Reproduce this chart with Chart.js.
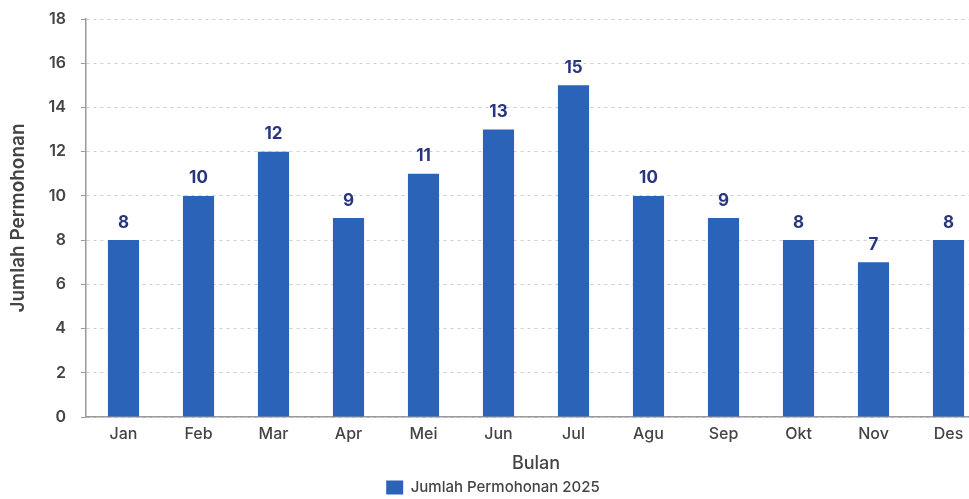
<!DOCTYPE html>
<html>
<head>
<meta charset="utf-8">
<script src="https://cdn.jsdelivr.net/npm/chart.js@4/dist/chart.umd.min.js"></script>
<style>
  html, body { margin: 0; padding: 0; background: #fff; overflow: hidden; }
  #wrap { width: 986px; height: 499px; position: relative; }
</style>
</head>
<body>
<div id="wrap"><canvas id="c"></canvas></div>
<script>
const categories = ['Jan','Feb','Mar','Apr','Mei','Jun','Jul','Agu','Sep','Okt','Nov','Des'];
const values = [8, 10, 12, 9, 11, 13, 15, 10, 9, 8, 7, 8];
const seriesName = 'Jumlah Permohonan 2025';
const xTitle = 'Bulan';
const yTitle = 'Jumlah Permohonan';

const barColor = '#2a63b8';
const labelColor = '#28367e';
const textColor = '#444';
const FONT = 'Inter, "Noto Sans", sans-serif';

const valueLabels = {
  id: 'valueLabels',
  afterDatasetsDraw(chart) {
    const ctx = chart.ctx;
    ctx.save();
    ctx.font = '700 17px ' + FONT;
    ctx.fillStyle = labelColor;
    ctx.textAlign = 'center';
    ctx.textBaseline = 'bottom';
    chart.getDatasetMeta(0).data.forEach((bar, i) => {
      ctx.fillText(String(values[i]), bar.x, bar.y - 9);
    });
    ctx.restore();
  }
};

new Chart(document.getElementById('c'), {
  type: 'bar',
  data: {
    labels: categories,
    datasets: [{
      label: seriesName,
      data: values,
      backgroundColor: barColor,
      borderWidth: 0,
      barPercentage: 0.5,
      categoryPercentage: 0.83
    }]
  },
  options: {
    responsive: true,
    maintainAspectRatio: false,
    animation: false,
    layout: { padding: { top: 19, right: 0, left: 0, bottom: -6 } },
    plugins: {
      legend: {
        position: 'bottom',
        labels: {
          boxWidth: 17, boxHeight: 14, padding: 2,
          color: textColor,
          font: { family: FONT, size: 15, weight: '500' }
        }
      },
      tooltip: { enabled: false }
    },
    scales: {
      x: {
        grid: { display: false, drawTicks: false },
        border: { display: true, color: '#9a9a9a', width: 1.5 },
        ticks: {
          color: textColor, padding: 8,
          font: { family: FONT, size: 16, weight: '500' }
        },
        title: {
          display: true, text: xTitle, color: textColor, padding: { top: 4, bottom: 4 },
          font: { family: FONT, size: 18, weight: '500' }
        },
        afterFit(scale) { scale.height = 61; scale.paddingLeft = 0; scale.paddingRight = 0; }
      },
      y: {
        min: 0, max: 18,
        ticks: {
          stepSize: 2, color: textColor, padding: 15,
          font: { family: FONT, size: 16, weight: '600' }
        },
        grid: {
          color: '#cfcfcf', lineWidth: 1, tickLength: 5, tickColor: '#9a9a9a'
        },
        border: { display: true, color: '#9a9a9a', width: 1.5, dash: [3, 4] },
        title: {
          display: true, text: yTitle, color: textColor, padding: { top: 7, bottom: 6 },
          font: { family: FONT, size: 19, weight: '600' }
        },
        afterFit(scale) { scale.width = 86; scale.paddingTop = 0; scale.paddingBottom = 0; }
      }
    }
  },
  plugins: [valueLabels]
});
</script>
</body>
</html>
